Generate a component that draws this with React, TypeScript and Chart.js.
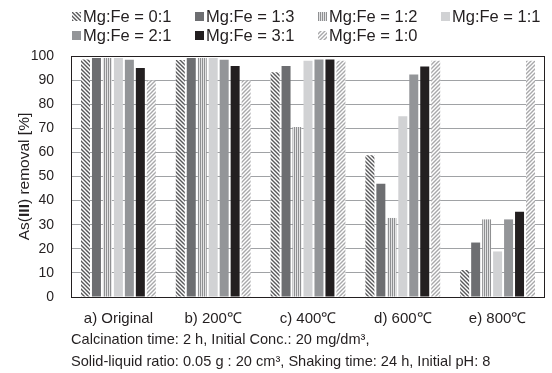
import React, { useEffect, useRef } from "react";
import { Chart, registerables } from "chart.js";

Chart.register(...registerables);

const categories = ["a) Original", "b) 200℃", "c) 400℃", "d) 600℃", "e) 800℃"];
const seriesLabels = [
  "Mg:Fe = 0:1",
  "Mg:Fe = 1:3",
  "Mg:Fe = 1:2",
  "Mg:Fe = 1:1",
  "Mg:Fe = 2:1",
  "Mg:Fe = 3:1",
  "Mg:Fe = 1:0",
];
const mgfe01 = [98.5, 98.3, 93.3, 58.8, 11.2];
const mgfe13 = [99.2, 99.2, 95.9, 47.0, 22.6];
const mgfe12 = [99.2, 99.2, 70.5, 32.8, 32.2];
const mgfe11 = [99.2, 99.2, 98.0, 75.0, 18.9];
const mgfe21 = [98.4, 98.4, 98.5, 92.3, 32.2];
const mgfe31 = [95.0, 95.9, 98.5, 95.6, 35.4];
const mgfe10 = [89.8, 89.8, 98.0, 98.0, 98.0];
const seriesValues = [mgfe01, mgfe13, mgfe12, mgfe11, mgfe21, mgfe31, mgfe10];

const yMin = 0;
const yMax = 100;
const yStep = 10;

const yTitleParts = [
  { text: "As(", bold: false },
  { text: "III", bold: true },
  { text: ") removal [%]", bold: false },
];
const footnoteLines = [
  "Calcination time: 2 h, Initial Conc.: 20 mg/dm³,",
  "Solid-liquid ratio: 0.05 g : 20 cm³, Shaking time: 24 h, Initial pH: 8",
];

const FONT = "'Liberation Sans', Arial, Helvetica, sans-serif";
const TEXT = "#231f20";

function makePattern(kind: string): CanvasPattern | string {
  const c = document.createElement("canvas");
  const g = c.getContext("2d");
  if (!g) return "#888";
  if (kind === "back" || kind === "fwd") {
    c.width = 4;
    c.height = 4;
    g.fillStyle = "#ffffff";
    g.fillRect(0, 0, 4, 4);
    g.strokeStyle = kind === "back" ? "#58585a" : "#a8a8aa";
    g.lineWidth = 1.4;
    g.beginPath();
    if (kind === "back") {
      g.moveTo(-1, -1); g.lineTo(5, 5);
      g.moveTo(3, -1); g.lineTo(5, 1);
      g.moveTo(-1, 3); g.lineTo(1, 5);
    } else {
      g.moveTo(-1, 5); g.lineTo(5, -1);
      g.moveTo(-1, 1); g.lineTo(1, -1);
      g.moveTo(3, 5); g.lineTo(5, 3);
    }
    g.stroke();
  } else {
    c.width = 2;
    c.height = 2;
    g.fillStyle = "#e2e2e3";
    g.fillRect(0, 0, 2, 2);
    g.fillStyle = "#8f9092";
    g.fillRect(0, 0, 1, 2);
  }
  const p = g.createPattern(c, "repeat");
  return p || "#888";
}

const decorPlugin = {
  id: "decor",
  afterDraw(chart: any) {
    const { ctx, chartArea } = chart;
    ctx.save();
    // frame
    ctx.strokeStyle = TEXT;
    ctx.lineWidth = 1;
    ctx.strokeRect(
      Math.round(chartArea.left) + 0.5,
      Math.round(chartArea.top) + 0.5,
      Math.round(chartArea.right - chartArea.left) - 1,
      Math.round(chartArea.bottom - chartArea.top)
    );

    // legend
    const legendLeft = 72;
    const legendTop = 12;
    const colStep = 123;
    const rowStep = 19;
    const box = 9;
    ctx.font = `16.5px ${FONT}`;
    ctx.textBaseline = "middle";
    ctx.textAlign = "left";
    chart.data.datasets.forEach((ds: any, i: number) => {
      const col = i % 4;
      const row = Math.floor(i / 4);
      const x = legendLeft + col * colStep;
      const y = legendTop + row * rowStep;
      ctx.fillStyle = ds.backgroundColor;
      ctx.fillRect(x, y, box, box);
      ctx.fillStyle = TEXT;
      ctx.fillText(ds.label, x + box + 2, y + box / 2 + 0.5);
    });

    // footnote
    ctx.font = `14.6px ${FONT}`;
    ctx.fillStyle = TEXT;
    footnoteLines.forEach((line, i) => {
      ctx.fillText(line, chartArea.left, 340 + i * 21.7);
    });

    // y title
    const cy = (chartArea.top + chartArea.bottom) / 2;
    ctx.translate(29, cy);
    ctx.rotate(-Math.PI / 2);
    ctx.textBaseline = "alphabetic";
    let total = 0;
    const widths = yTitleParts.map((p) => {
      ctx.font = `${p.bold ? "bold " : ""}15.5px ${FONT}`;
      const w = ctx.measureText(p.text).width;
      total += w;
      return w;
    });
    let x = -total / 2;
    yTitleParts.forEach((p, i) => {
      ctx.font = `${p.bold ? "bold " : ""}15.5px ${FONT}`;
      ctx.fillStyle = TEXT;
      ctx.fillText(p.text, x, 0);
      x += widths[i];
    });
    ctx.restore();
  },
};

export default function App() {
  const ref = useRef<HTMLCanvasElement | null>(null);
  useEffect(() => {
    if (!ref.current) return;
    const fills = [
      makePattern("back"),
      "#6d6e71",
      makePattern("vert"),
      "#d1d2d4",
      "#939598",
      "#231f20",
      makePattern("fwd"),
    ];
    const chart = new Chart(ref.current, {
      type: "bar",
      data: {
        labels: categories,
        datasets: seriesValues.map((vals, i) => ({
          label: seriesLabels[i],
          data: vals,
          backgroundColor: fills[i] as any,
          borderWidth: 0,
          categoryPercentage: 0.81,
          barPercentage: 0.82,
        })),
      },
      options: {
        animation: false,
        responsive: false,
        layout: { padding: { top: 56, right: 7, bottom: 0, left: 0 } },
        plugins: {
          legend: { display: false },
          tooltip: { enabled: false },
        },
        scales: {
          x: {
            grid: { display: false },
            border: { display: false },
            ticks: {
              color: TEXT,
              font: { family: FONT, size: 15 },
              padding: 5,
              maxRotation: 0,
              autoSkip: false,
            },
            afterFit: (s: any) => {
              s.height = 76;
            },
          },
          y: {
            min: yMin,
            max: yMax,
            ticks: {
              stepSize: yStep,
              color: TEXT,
              font: { family: FONT, size: 14 },
              padding: 17,
            },
            grid: { color: "#a0a2a5", lineWidth: 1, drawTicks: false },
            border: { display: false },
            afterFit: (s: any) => {
              s.width = 71;
            },
          },
        },
      },
      plugins: [decorPlugin],
    });
    return () => chart.destroy();
  }, []);
  return (
    <div style={{ position: "absolute", left: 0, top: 0, width: 552, height: 373 }}>
      <canvas ref={ref} width={552} height={373} style={{ display: "block" }} />
    </div>
  );
}
